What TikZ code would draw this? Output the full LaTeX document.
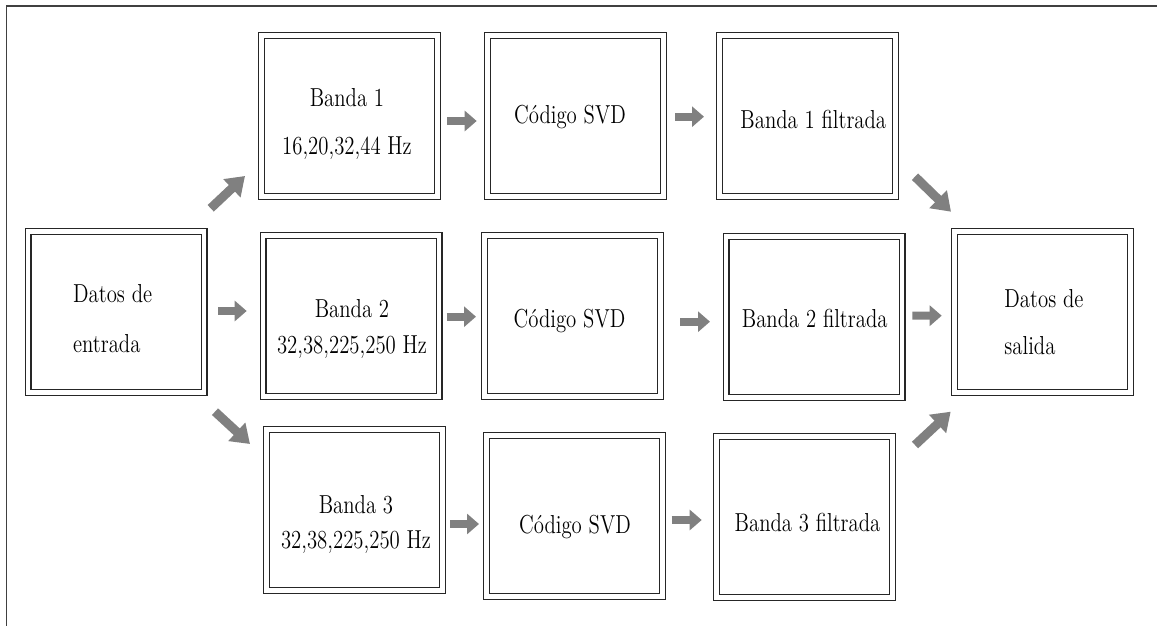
\documentclass[tikz,border=0pt]{standalone}
\usepackage{fontspec}
\setmainfont{lmroman12-regular.otf}[FakeStretch=0.80]
\usetikzlibrary{arrows.meta}

\tikzset{
  caja/.style={draw=black!85, double, line width=0.6pt, double distance=2.3pt,
    minimum width=88pt, minimum height=80.5pt, inner sep=0pt, outer sep=0pt},
  texto/.style={inner sep=0pt, font=\fontsize{13}{16}\selectfont},
  flecha/.style={gray, line width=4pt, -{Triangle[length=6pt,width=10pt]}},
  diag/.style={flecha, line width=4.5pt, -{Triangle[length=9pt,width=12pt]}},
}

\begin{document}
\begin{tikzpicture}[x=0.5pt, y=-0.5pt]
  \useasboundingbox (0,0) rectangle (1157,626);

  % marco
  \draw[black!75, line width=0.6pt] (6.5,626) |- (1157,6);

  % cajas
  \node[caja] (ent) at (116,312) {};
  \node[caja] (b1) at (349.5,116) {};
  \node[caja] (c1) at (575.5,116) {};
  \node[caja] (f1) at (807.5,116) {};
  \node[caja] (b2) at (351,316) {};
  \node[caja] (c2) at (572.5,316) {};
  \node[caja] (f2) at (814,317) {};
  \node[caja] (b3) at (354.5,510) {};
  \node[caja] (c3) at (574.5,516) {};
  \node[caja] (f3) at (804.5,517) {};
  \node[caja] (sal) at (1042.5,312) {};

  % textos
  \node[texto, align=left, anchor=north west] (t-ent) at (72.7,284.3) {Datos de\\[8.7pt]entrada};
  \node[texto, align=left, anchor=north west] (t-sal) at (1004,288.7) {Datos de\\[7.7pt]salida};
  \node[texto, align=center, anchor=north] (t-b1) at (347,88) {Banda 1\\[8.2pt]16,20,32,44 Hz};
  \node[texto, align=center, anchor=north] (t-b2) at (352,298.7) {Banda 2\\[2.3pt]32,38,225,250 Hz};
  \node[texto, align=center, anchor=north] (t-b3) at (356,495.3) {Banda 3\\[1.4pt]32,38,225,250 Hz};
  \node[texto, anchor=base] (t-c1) at (570,123.3) {Código SVD};
  \node[texto, anchor=base] (t-c2) at (569.5,327.7) {Código SVD};
  \node[texto, anchor=base] (t-c3) at (575,533) {Código SVD};
  \node[texto, anchor=base] (t-f1) at (813.3,128.3) {Banda 1 filtrada};
  \node[texto, anchor=base] (t-f2) at (814.7,327.7) {Banda 2 filtrada};
  \node[texto, anchor=base] (t-f3) at (807.5,531.7) {Banda 3 filtrada};

  % flechas
  \draw[diag] ([shift={(6.7,-23.2)}]ent.north east) -- ([shift={(-16.5,-20.5)}]b1.south west);
  \draw[flecha] ([shift={(14.3,-1)}]ent.east) -- ([shift={(-16.3,-5)}]b2.west);
  \draw[diag] ([shift={(11,19.2)}]ent.south east) -- ([shift={(-16.5,14.5)}]b3.north west);
  \draw[flecha] ([shift={(9.8,5)}]b1.east) -- ([shift={(-10.8,5)}]c1.west);
  \draw[flecha] ([shift={(11.5,0.7)}]c1.east) -- ([shift={(-15.5,0.7)}]f1.west);
  \draw[flecha] ([shift={(7.7,0.7)}]b2.east) -- ([shift={(-8.5,0.7)}]c2.west);
  \draw[flecha] ([shift={(19.5,5.7)}]c2.east) -- ([shift={(-16,4.7)}]f2.west);
  \draw[flecha] ([shift={(7.5,14)}]b3.east) -- ([shift={(-7.5,8)}]c3.west);
  \draw[flecha] ([shift={(9.2,4)}]c3.east) -- ([shift={(-14.8,3)}]f3.west);
  \draw[diag] ([shift={(19.5,-19.8)}]f1.south east) -- ([shift={(-3.5,-19.8)}]sal.north west);
  \draw[flecha] ([shift={(10.3,-1.3)}]f2.east) -- ([shift={(-12.8,3.7)}]sal.west);
  \draw[diag] ([shift={(22.5,8.5)}]f3.north east) -- ([shift={(-3.8,19.2)}]sal.south west);
\end{tikzpicture}
\end{document}
